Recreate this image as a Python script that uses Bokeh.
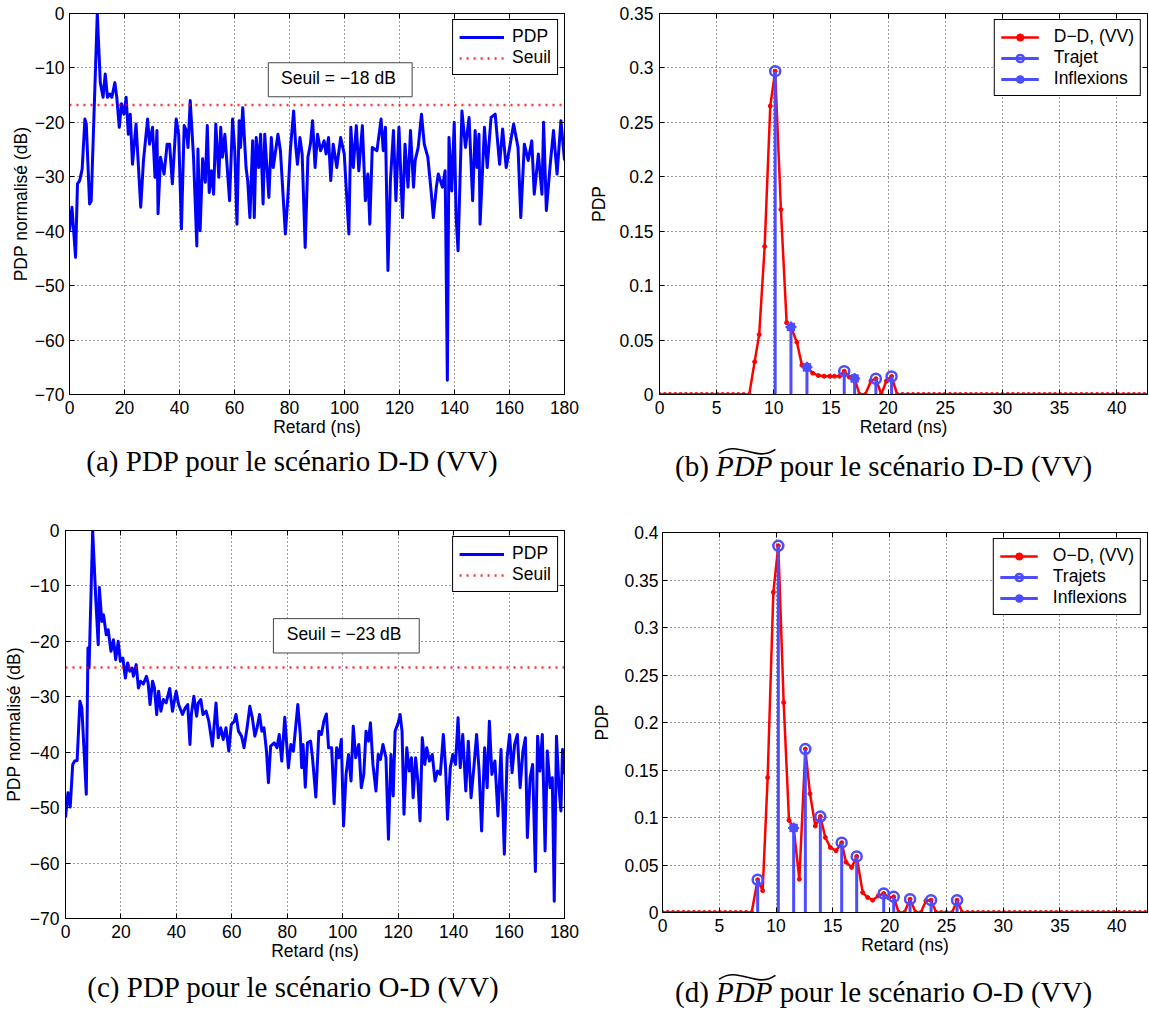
import numpy as np
from bokeh.plotting import figure
from bokeh.models import (Range1d, FixedTicker, LinearAxis, Legend, LegendItem,
                          Label, BoxAnnotation, CustomJSTickFormatter)
from bokeh.layouts import column, row
from bokeh.embed import file_html
from bokeh.resources import INLINE
from bokeh.core.properties import value

SANS = "Liberation Sans"
SERIF = "Liberation Serif"
BLUE = "#0000ff"
RED = "#ff0000"
STEM = "#4d4dff"
FS = "17.5px"

# ---------------- (a) PDP, scenario D-D (dB) ----------------
a_delay = [0, 0.9, 2.2, 2.9, 3.7, 4.6, 5.6, 6.1, 7.3, 7.9,
           10.1, 11.2, 12.2, 13.0, 13.8, 14.6, 15.4, 16.5, 17.2, 18.1,
           18.9, 19.8, 20.6, 21.4, 22.1, 22.9, 24.2, 25.9, 26.9, 28.4,
           29.1, 30.2, 31.1, 31.8, 32.2, 33.1, 34.4, 35.5, 36.4, 37.4,
           38.8, 39.7, 40.7, 41.7, 42.5, 43.1, 43.9, 45.1, 46.3, 46.7,
           47.5, 48.4, 49.4, 50.1, 50.8, 51.6, 52.4, 53.2, 54.3, 55.0,
           55.6, 56.5, 58.2, 59.3, 60.1, 60.9, 61.7, 62.2, 63.0, 64.2,
           64.8, 65.6, 66.6, 67.2, 67.9, 68.8, 69.5, 70.4, 71.0, 72.5,
           73.4, 74.1, 75.8, 76.7, 78.5, 79.4, 80.3, 81.5, 82.3, 82.9,
           83.8, 84.6, 85.7, 86.7, 87.6, 88.4, 89.3, 90.2, 91.3, 92.6,
           93.3, 94.2, 95.0, 95.9, 97.2, 98.6, 99.9, 101.6, 102.3, 103.2,
           104.3, 105.2, 106.5, 107.6, 108.5, 109.2, 110.1, 111.8, 113.3, 114.1,
           114.9, 115.8, 116.7, 117.8, 118.7, 119.8, 121.1, 122.0, 123.1, 124.0,
           125.1, 125.7, 126.8, 128.0, 129.0, 130.3, 131.6, 132.3, 133.4, 134.1,
           135.6, 136.6, 137.4, 138.0, 139.0, 139.9, 140.6, 141.3, 142.7, 144.0,
           145.3, 146.6, 147.5, 148.2, 148.9, 149.3, 150.9, 151.9, 153.3, 154.8,
           156.4, 157.5, 158.8, 161.5, 163.1, 164.1, 165.4, 166.8, 168.1, 169.0,
           170.5, 171.8, 172.4, 173.4, 174.7, 176.0, 177.3, 178.7, 180.0]
a_pdp = [-40.0, -35.6, -44.8, -31.3, -30.7, -28.6, -19.4, -20.3, -35.0, -34.4,
         0.0, -12.7, -15.4, -11.1, -15.4, -14.8, -15.4, -12.7, -15.4, -20.9,
         -16.6, -18.5, -15.4, -22.2, -18.5, -27.7, -20.3, -35.6, -27.0, -19.4,
         -24.0, -20.9, -30.1, -21.5, -36.8, -26.4, -29.5, -24.0, -24.0, -31.3,
         -19.4, -22.2, -39.6, -20.6, -21.5, -24.6, -16.0, -26.4, -42.7, -24.9,
         -39.9, -26.7, -31.0, -20.6, -32.9, -28.9, -33.2, -20.3, -30.1, -20.9,
         -26.4, -22.2, -34.4, -19.4, -25.2, -38.7, -19.7, -24.6, -17.3, -28.3,
         -30.7, -37.5, -23.4, -37.5, -22.8, -28.3, -22.2, -35.0, -22.2, -33.8,
         -22.8, -28.3, -22.2, -25.2, -40.5, -33.8, -25.2, -17.9, -24.6, -27.7,
         -22.8, -25.8, -43.0, -26.4, -24.0, -19.7, -28.3, -22.2, -25.2, -23.4,
         -25.8, -22.8, -30.7, -24.0, -28.3, -22.8, -25.8, -40.5, -20.9, -28.3,
         -20.6, -28.9, -20.6, -34.4, -29.5, -38.7, -24.6, -25.2, -19.4, -25.2,
         -20.9, -47.2, -30.7, -21.5, -34.4, -20.9, -37.5, -24.0, -31.9, -21.5,
         -31.9, -27.0, -24.6, -18.5, -24.0, -26.4, -33.2, -37.5, -31.9, -29.5,
         -31.9, -28.9, -67.4, -22.8, -32.6, -20.0, -37.5, -43.6, -17.9, -24.6,
         -19.1, -34.4, -21.5, -28.3, -22.2, -38.7, -20.9, -28.3, -19.1, -18.5,
         -27.7, -21.2, -28.3, -20.3, -24.6, -37.5, -24.0, -27.0, -23.4, -33.2,
         -25.8, -33.2, -20.0, -36.2, -28.3, -21.5, -29.5, -19.7, -27.0]
a_seuil = -16.8
a_seuil_text = "Seuil = \u221218 dB"

# ---------------- (c) PDP, scenario O-D (dB) ----------------
c_delay = [0, 0.9, 1.7, 2.6, 3.3, 4.2, 5.2, 5.9, 7.5, 8.1,
           8.5, 9.8, 10.9, 11.8, 12.2, 13.1, 13.7, 14.7, 15.4, 16.4,
           17.3, 18.1, 19.0, 19.8, 20.7, 21.6, 22.4, 23.2, 24.0, 24.5,
           25.5, 26.3, 27.1, 28.1, 29.2, 29.8, 30.5, 31.4, 32.1, 32.9,
           33.6, 34.4, 35.3, 36.3, 37.6, 38.6, 39.9, 40.8, 42.2, 43.2,
           44.1, 44.9, 45.4, 46.3, 47.3, 47.9, 48.8, 49.6, 50.7, 51.7,
           53.0, 54.3, 55.1, 56.0, 56.9, 57.9, 58.9, 59.8, 60.9, 61.5,
           62.4, 63.5, 64.4, 65.5, 66.5, 67.4, 68.3, 69.1, 70.0, 70.8,
           71.6, 72.5, 73.2, 74.0, 75.3, 76.3, 77.1, 78.0, 79.1, 80.4,
           81.3, 82.2, 83.8, 84.7, 85.2, 85.7, 86.5, 87.3, 88.4, 89.1,
           90.3, 91.4, 92.3, 93.2, 94.1, 94.9, 96.0, 96.9, 97.8, 98.6,
           99.5, 100.3, 101.2, 102.1, 103.0, 103.8, 104.7, 105.8, 106.7, 107.6,
           108.4, 109.3, 110.0, 110.9, 112.0, 112.8, 113.6, 114.5, 115.6, 116.5,
           117.4, 118.2, 118.9, 120.0, 120.7, 121.4, 122.1, 123.1, 124.0, 124.8,
           125.4, 126.3, 127.1, 127.9, 128.7, 129.6, 130.3, 131.3, 132.3, 133.3,
           134.2, 135.2, 136.3, 137.1, 137.8, 138.8, 139.7, 140.7, 141.6, 142.4,
           143.3, 144.4, 145.3, 146.3, 147.3, 148.3, 149.2, 150.1, 151.2, 152.1,
           152.9, 153.8, 154.9, 156.0, 157.1, 158.3, 159.3, 160.2, 161.1, 162.0,
           163.0, 164.0, 165.0, 165.9, 166.6, 167.6, 168.5, 169.5, 170.3, 171.1,
           172.0, 173.0, 173.8, 174.8, 175.6, 176.3, 177.1, 178.0, 178.7, 179.3,
           180.0]
c_pdp = [-51.8, -47.3, -49.9, -42.2, -41.6, -41.5, -30.8, -32.0, -47.6, -21.2,
         -24.8, 0.0, -12.1, -20.6, -10.3, -16.4, -15.2, -18.8, -17.9, -21.8,
         -19.7, -23.3, -20.0, -23.6, -23.0, -26.6, -23.9, -25.4, -24.8, -26.3,
         -24.2, -28.4, -27.2, -27.7, -26.3, -27.5, -31.4, -27.2, -28.4, -33.2,
         -29.0, -32.6, -30.5, -31.1, -28.5, -32.6, -29.0, -31.4, -33.2, -32.0,
         -31.4, -38.6, -33.2, -29.9, -33.5, -31.1, -30.5, -33.2, -32.6, -34.4,
         -38.9, -31.1, -37.4, -35.6, -37.7, -35.6, -39.8, -35.0, -34.4, -33.2,
         -36.2, -37.1, -39.2, -35.6, -31.7, -33.8, -37.1, -35.6, -33.2, -36.2,
         -35.6, -39.8, -45.5, -38.9, -38.3, -39.2, -36.8, -41.6, -33.7, -42.8,
         -38.6, -39.8, -31.4, -36.8, -42.8, -38.6, -46.3, -38.3, -38.0, -41.0,
         -48.1, -36.2, -36.8, -34.4, -33.1, -39.2, -39.2, -49.3, -39.2, -41.0,
         -37.7, -53.3, -44.0, -40.4, -45.2, -35.3, -41.0, -38.6, -46.4, -44.0,
         -36.2, -38.0, -34.7, -42.2, -47.0, -40.4, -41.3, -38.6, -41.0, -55.7,
         -40.4, -47.9, -36.2, -34.7, -33.2, -36.2, -51.2, -39.2, -43.4, -41.0,
         -48.2, -41.0, -45.2, -52.4, -37.4, -42.2, -39.2, -41.6, -40.4, -45.2,
         -43.4, -44.0, -36.8, -42.8, -52.1, -42.8, -40.4, -42.2, -33.8, -42.8,
         -36.8, -47.0, -38.0, -48.2, -42.8, -36.8, -43.4, -54.2, -39.2, -46.4,
         -34.4, -44.0, -41.6, -51.5, -39.5, -58.4, -41.0, -36.8, -43.7, -38.6,
         -36.8, -46.4, -39.8, -37.4, -55.4, -44.6, -42.2, -61.5, -37.1, -43.4,
         -36.8, -57.8, -39.8, -46.4, -44.6, -66.9, -37.1, -46.4, -50.6, -39.5,
         -44.0]
c_seuil = -24.7
c_seuil_text = "Seuil = \u221223 dB"

# ---------------- (b) PDP tilde, scenario D-D (linear) ----------------
b_peak_delay = [7.85, 8.32, 8.72, 9.2, 9.69, 10.12, 10.62, 11.12, 11.5, 12.02,
                12.46, 12.9, 13.4, 13.9, 14.4, 14.9, 15.3, 15.75, 16.16, 16.6,
                17.07, 17.5, 18.0, 18.5, 18.93, 19.4, 19.85, 20.3, 20.8]
b_peak_pdp = [0.0, 0.030, 0.055, 0.136, 0.265, 0.297, 0.170, 0.066, 0.062, 0.048,
              0.027, 0.025, 0.0196, 0.0174, 0.0168, 0.0168, 0.0168, 0.0168, 0.0214, 0.016,
              0.0147, 0.0, 0.0, 0.0125, 0.0145, 0.0, 0.0125, 0.0165, 0.0]
b_zero_before = list(np.round(np.arange(0.0, 7.6, 0.46), 2))
b_zero_after = list(np.round(np.arange(21.26, 43.2, 0.46), 2))
b_path_delay = [10.12, 16.16, 18.93, 20.3]
b_path_pdp = [0.297, 0.0214, 0.0145, 0.0165]
b_infl_delay = [11.5, 12.9, 17.07]
b_infl_pdp = [0.062, 0.025, 0.0147]

# ---------------- (d) PDP tilde, scenario O-D (linear) ----------------
d_peak_delay = [7.85, 8.38, 8.82, 9.26, 9.76, 10.2, 10.67, 11.14, 11.55, 12.05,
                12.58, 12.99, 13.46, 13.9, 14.34, 14.78, 15.28, 15.78, 16.16, 16.66,
                17.1, 17.63, 18.07, 18.51, 19.0, 19.48, 19.92, 20.36, 20.8, 21.3,
                21.8, 22.3, 22.75, 23.2, 23.65, 24.1, 24.55, 25.0, 25.5, 25.94,
                26.4]
d_peak_pdp = [0.0, 0.0345, 0.023, 0.142, 0.337, 0.386, 0.221, 0.097, 0.089, 0.035,
              0.172, 0.125, 0.091, 0.101, 0.079, 0.0685, 0.065, 0.0735, 0.053, 0.0475,
              0.059, 0.021, 0.0158, 0.013, 0.0175, 0.020, 0.0155, 0.0165, 0.0, 0.0,
              0.014, 0.0, 0.0, 0.0123, 0.013, 0.0, 0.0, 0.0, 0.0, 0.013,
              0.0]
d_zero_before = list(np.round(np.arange(0.0, 7.6, 0.46), 2))
d_zero_after = list(np.round(np.arange(26.86, 43.2, 0.46), 2))
d_path_delay = [8.38, 10.2, 12.58, 13.9, 15.78, 17.1, 19.48, 20.36, 21.8, 23.65, 25.94]
d_path_pdp = [0.0345, 0.386, 0.172, 0.101, 0.0735, 0.059, 0.020, 0.0165, 0.014, 0.013, 0.013]
d_infl_delay = [11.55]
d_infl_pdp = [0.089]

# ticks
db_xticks = [0, 20, 40, 60, 80, 100, 120, 140, 160, 180]
db_yticks = [-70, -60, -50, -40, -30, -20, -10, 0]
lin_xticks = [0, 5, 10, 15, 20, 25, 30, 35, 40]
b_yticks = [0, 0.05, 0.1, 0.15, 0.2, 0.25, 0.3, 0.35]
d_yticks = [0, 0.05, 0.1, 0.15, 0.2, 0.25, 0.3, 0.35, 0.4]

assert len(a_delay) == len(a_pdp)
assert len(c_delay) == len(c_pdp)
assert len(b_peak_delay) == len(b_peak_pdp)
assert len(d_peak_delay) == len(d_peak_pdp)


def frame_fig(xr, yr, w, h, left, right, top, bottom):
    p = figure(width=w, height=h, x_range=Range1d(*xr), y_range=Range1d(*yr),
               min_border_left=left, min_border_right=right, min_border_top=top,
               min_border_bottom=bottom, toolbar_location=None, output_backend="svg")
    p.outline_line_color = "black"
    p.outline_line_alpha = 1.0
    p.background_fill_color = "white"
    p.border_fill_color = "white"
    return p


def style(p, xticks, yticks, ylabel, x_std, y_lab_std, y_std):
    fmt = CustomJSTickFormatter(code="return String(tick).replace('-', '\u2212');")
    xa, ya = p.xaxis[0], p.yaxis[0]
    for ax, ticks in ((xa, xticks), (ya, yticks)):
        ax.ticker = FixedTicker(ticks=ticks)
        ax.formatter = fmt
        ax.major_tick_in = 5
        ax.major_tick_out = 0
        ax.minor_tick_line_color = None
        ax.axis_line_color = "black"
        ax.major_tick_line_color = "black"
        ax.major_label_text_font = SANS
        ax.major_label_text_font_size = FS
        ax.major_label_text_color = "black"
        ax.axis_label_text_font = SANS
        ax.axis_label_text_font_style = "normal"
        ax.axis_label_text_font_size = FS
        ax.axis_label_text_color = "black"
    xa.axis_label = "Retard (ns)"
    xa.major_label_standoff = x_std
    xa.axis_label_standoff = 0
    ya.axis_label = ylabel
    ya.major_label_standoff = y_lab_std
    ya.axis_label_standoff = y_std
    for loc, ticks in (("above", xticks), ("right", yticks)):
        ax = LinearAxis(ticker=FixedTicker(ticks=ticks), major_tick_in=5, major_tick_out=0,
                        minor_tick_line_color=None, major_label_text_font_size="0px",
                        major_label_text_alpha=0, major_label_standoff=0,
                        axis_line_color="black", major_tick_line_color="black")
        p.add_layout(ax, loc)
    p.xgrid.ticker = FixedTicker(ticks=xticks)
    p.ygrid.ticker = FixedTicker(ticks=yticks)
    p.grid.grid_line_color = "#333333"
    p.grid.grid_line_dash = "1 3"
    p.grid.grid_line_width = 1


def add_legend(p, items, glyph_width, standoff):
    leg = Legend(items=items, location="top_right", margin=6, padding=6, spacing=0,
                 glyph_width=glyph_width, glyph_height=18, label_height=18,
                 label_standoff=standoff, label_text_font=SANS, label_text_font_size=FS,
                 label_text_color="black", border_line_color="black", border_line_width=1,
                 border_line_alpha=1.0, background_fill_color="white", background_fill_alpha=1.0)
    p.add_layout(leg)


def db_panel(delay, pdp, seuil, seuil_text, box, text_xy, w, h, left, right, top, bottom,
             y_lab_std, y_std):
    p = frame_fig((db_xticks[0], db_xticks[-1]), (db_yticks[0], db_yticks[-1]),
                  w, h, left, right, top, bottom)
    style(p, db_xticks, db_yticks, "PDP normalis\u00e9 (dB)", 6, y_lab_std, y_std)
    r1 = p.line(delay, pdp, line_color=BLUE, line_width=3, line_join="round")
    r2 = p.line([db_xticks[0], db_xticks[-1]], [seuil, seuil], line_color=RED, line_width=2.5,
                line_dash="2 5", line_alpha=0.8)
    add_legend(p, [LegendItem(label="PDP", renderers=[r1]),
                   LegendItem(label="Seuil", renderers=[r2])], 45, 8)
    l, r, t, b = box
    p.add_layout(BoxAnnotation(left=l, right=r, top=t, bottom=b, fill_color="white",
                               fill_alpha=1.0, line_color="#444444", line_width=1, line_alpha=1.0))
    p.add_layout(Label(x=text_xy[0], y=text_xy[1], text=seuil_text, text_align="center",
                       text_baseline="middle", text_font=SANS, text_font_size=FS,
                       text_color="black"))
    return p


def lin_panel(zero_before, peak_delay, peak_pdp, zero_after, path_d, path_p, infl_d, infl_p,
              yticks, xmax, labels, w, h, left, right, top, bottom, y_lab_std, y_std):
    p = frame_fig((0, xmax), (yticks[0], yticks[-1]), w, h, left, right, top, bottom)
    style(p, lin_xticks, yticks, "PDP", 6, y_lab_std, y_std)
    delay = list(zero_before) + list(peak_delay) + list(zero_after)
    pdp = [0.0] * len(zero_before) + list(peak_pdp) + [0.0] * len(zero_after)
    r_line = p.line(delay, pdp, line_color=RED, line_width=2.5, line_join="round")
    r_dots = p.scatter(delay, pdp, size=4, marker="circle", fill_color=RED, line_color=RED)
    s_path = p.segment(x0=path_d, y0=[0] * len(path_d), x1=path_d, y1=path_p,
                       line_color=STEM, line_width=3)
    s_infl = p.segment(x0=infl_d, y0=[0] * len(infl_d), x1=infl_d, y1=infl_p,
                       line_color=STEM, line_width=3)
    m_path = p.scatter(path_d, path_p, size=10, marker="circle", fill_alpha=0,
                       line_color=STEM, line_width=2.5)
    m_infl = p.scatter(infl_d, infl_p, size=8, marker="circle", fill_color=STEM,
                       line_color=STEM, line_width=1.5)
    m_infl2 = p.scatter(infl_d, infl_p, size=11, marker="asterisk",
                        line_color=STEM, line_width=2)
    add_legend(p, [LegendItem(label=labels[0], renderers=[r_line, r_dots]),
                   LegendItem(label=labels[1], renderers=[s_path, m_path]),
                   LegendItem(label=labels[2], renderers=[s_infl, m_infl, m_infl2])], 38, 15)
    return p


# page origin is (0, 0): Bokeh's page template has no body margin
pa = db_panel(a_delay, a_pdp, a_seuil, a_seuil_text, (72.3, 124.6, -9.05, -15.3), (97.8, -11.9),
              585, 440, 69, 21, 13, 46, 5, 1)
pb = lin_panel(b_zero_before, b_peak_delay, b_peak_pdp, b_zero_after, b_path_delay, b_path_pdp,
               b_infl_delay, b_infl_pdp, b_yticks, 42.69,
               ["D\u2212D, (VV)", "Trajet", "Inflexions"], 564, 440, 74, 2, 13, 46, 6, 7)
pc = db_panel(c_delay, c_pdp, c_seuil, c_seuil_text, (75.0, 127.6, -15.9, -22.1), (100.5, -18.7),
              585, 465, 64, 21, 30, 47, 6, 3)
pd = lin_panel(d_zero_before, d_peak_delay, d_peak_pdp, d_zero_after, d_path_delay, d_path_pdp,
               d_infl_delay, d_infl_pdp, d_yticks, 42.71,
               ["O\u2212D, (VV)", "Trajets", "Inflexions"], 564, 465, 77, 2, 32, 53, 4, 9)

CAP_FS = 29
TEXT_SHIFT = 10   # rendered text sits lower than its nominal alphabetic baseline


def caption_fig(width, height, plain_xy, plain_text, tilde_xy, tilde_parts):
    c = figure(width=width, height=height, x_range=Range1d(0, width), y_range=Range1d(0, height),
               toolbar_location=None, output_backend="svg", min_border=0,
               x_axis_location=None, y_axis_location=None)
    c.outline_line_color = None
    c.grid.visible = False
    c.background_fill_color = "white"
    c.border_fill_color = "white"
    fsz = "%dpx" % CAP_FS
    c.text(x=[plain_xy[0]], y=[plain_xy[1] + TEXT_SHIFT], text=[plain_text],
           text_font=value(SERIF), text_font_size=fsz, text_align="center",
           text_baseline="alphabetic", text_color="black")
    x0, yb = tilde_xy
    w1 = 1.166 * CAP_FS   # "(b)"
    wsp = 0.25 * CAP_FS
    w2 = 1.944 * CAP_FS   # italic "PDP"
    ys = yb + TEXT_SHIFT
    c.text(x=[x0], y=[ys], text=[tilde_parts[0]], text_font=value(SERIF), text_font_size=fsz,
           text_align="left", text_baseline="alphabetic", text_color="black")
    c.text(x=[x0 + w1 + wsp], y=[ys], text=[tilde_parts[1]], text_font=value(SERIF),
           text_font_size=fsz, text_font_style="italic", text_align="left",
           text_baseline="alphabetic", text_color="black")
    c.text(x=[x0 + w1 + wsp + w2 + wsp], y=[ys], text=[tilde_parts[2]], text_font=value(SERIF),
           text_font_size=fsz, text_align="left", text_baseline="alphabetic",
           text_color="black")
    tx0 = x0 + w1 + wsp + 3
    tx1 = x0 + w1 + wsp + w2 + 3
    ty = yb + 0.662 * CAP_FS + 3
    c.bezier(x0=[tx0], y0=[ty], x1=[tx1], y1=[ty + 4],
             cx0=[tx0 + 0.35 * (tx1 - tx0)], cy0=[ty + 14], cx1=[tx0 + 0.65 * (tx1 - tx0)],
             cy1=[ty - 10], line_color="black", line_width=1.6)
    return c


cap1 = caption_fig(1149, 60, (292, 30), "(a) PDP pour le sc\u00e9nario D-D (VV)",
                   (674.5, 25), ["(b)", "PDP", "pour le sc\u00e9nario D-D (VV)"])
cap2 = caption_fig(1149, 48, (293, 17), "(c) PDP pour le sc\u00e9nario O-D (VV)",
                   (674.5, 12), ["(d)", "PDP", "pour le sc\u00e9nario O-D (VV)"])

layout = column(row(pa, pb), cap1, row(column(pc), column(pd)), cap2)

with open("out.html", "w") as f:
    f.write(file_html(layout, INLINE))
